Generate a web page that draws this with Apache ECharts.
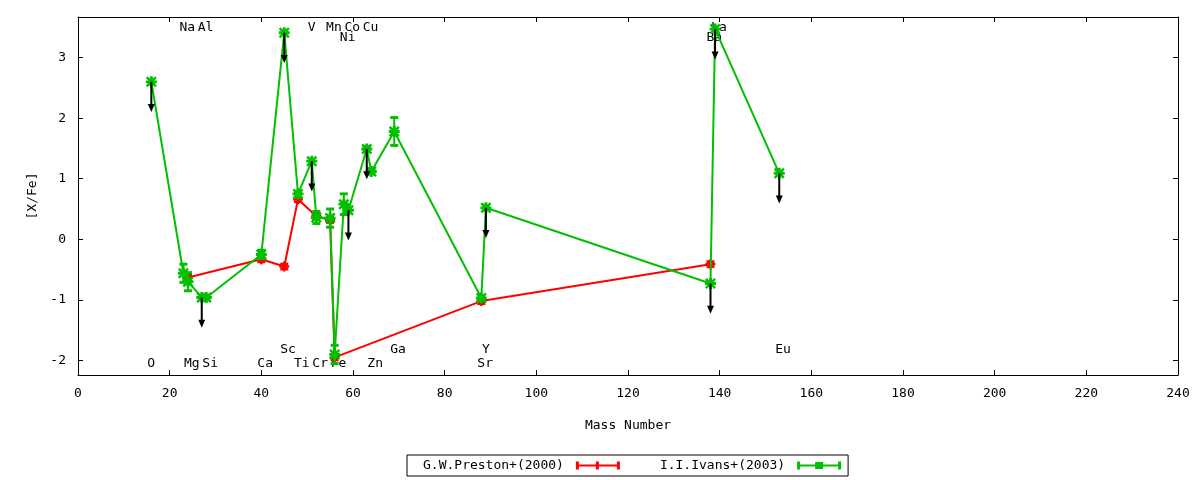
<!DOCTYPE html>
<head>
    <title>ECharts</title>
    <meta charset="UTF-8">
	<style>
	html,body{margin:0;padding:0;background:#fff;}
	</style>
</head>
<body>
	  <div id="main" style="width:1200px;height:480px;"></div>

    <script src="https://cdn.jsdelivr.net/npm/echarts@6/dist/echarts.min.js" charset="UTF-8"></script>
    <script type="text/javascript">
	// elements, mass numbers and where gnuplot put the name tags
	var elements = ['O','Na','Mg','Al','Si','Ca','Sc','Ti','V','Cr','Mn','Fe','Ni','Co','Cu','Zn','Ga','Sr','Y','Ba','La','Eu'];
	var massNumber = [16,23,24,27,28,40,45,48,51,52,55,56,58,59,63,64,69,88,89,138,139,153];
	var tagY = [-2.05,3.5,-2.05,3.5,-2.05,-2.05,-1.82,-2.05,3.5,-2.05,3.5,-2.05,3.33,3.5,3.5,-2.05,-1.82,-2.05,-1.82,3.33,3.5,-1.82];

	// I.I.Ivans+(2003), same order as elements
	var ivansVal   = [2.60,-0.56,-0.70,-0.96,-0.96,-0.25,3.41,0.75,1.29,0.36,0.35,-1.90,0.58,0.48,1.49,1.12,1.78,-0.97,0.52,-0.73,3.47,1.09];
	var ivansErr   = [0,0.15,0.15,0,0.03,0.07,0,0.04,0,0.10,0.15,0.15,0.17,0,0.04,0.04,0.23,0.04,0,0,0,0];
	var ivansLimit = [1,0,0,1,0,0,1,0,1,0,0,0,0,1,1,0,0,0,1,1,1,1];

	// G.W.Preston+(2000)
	var prestonMass = [24,40,45,48,52,55,56,88,138];
	var prestonVal  = [-0.63,-0.33,-0.45,0.66,0.38,0.32,-1.95,-1.02,-0.41];
	var prestonErr  = [0.04,0.04,0.04,0.04,0.04,0.04,0.04,0.04,0.04];

	var xTicks = {min:0, max:240, step:20};
	var limitDrop = 0.5;

	var FONT = 'DejaVu Sans Mono';
	var RED = '#ff0000', GREEN = '#00c000';
	var starPath = 'path://M0,1.6L1.6,0L5,3.4L8.4,0L10,1.6L6.6,5L10,8.4L8.4,10L5,6.6L1.6,10L0,8.4L3.4,5Z M3.7,0h2.6v10h-2.6z M0,3.7h10v2.6h-10z M2.5,2.5h5v5h-5z';
	var plusPath = 'path://M3.8,0h2.4v10h-2.4z M0,3.8h10v2.4h-10z';

	var ivansLine = [], ivansBars = [], arrows = [], tags = [];
	for (var i = 0; i < elements.length; i++) {
		ivansLine.push([massNumber[i], ivansVal[i]]);
		ivansBars.push([massNumber[i], ivansVal[i], ivansErr[i]]);
		if (ivansLimit[i]) arrows.push([massNumber[i], ivansVal[i]]);
		tags.push([massNumber[i], tagY[i], elements[i]]);
	}
	var prestonLine = [], prestonBars = [];
	for (var j = 0; j < prestonMass.length; j++) {
		prestonLine.push([prestonMass[j], prestonVal[j]]);
		prestonBars.push([prestonMass[j], prestonVal[j], prestonErr[j]]);
	}

	function errBars(color) {
		return function (params, api) {
			var e = api.value(2);
			if (!e) return null;
			var x = api.value(0), y = api.value(1);
			var a = api.coord([x, y + e]), b = api.coord([x, y - e]);
			var st = {stroke: color, lineWidth: 2};
			return {type: 'group', children: [
				{type: 'line', shape: {x1: a[0], y1: a[1], x2: b[0], y2: b[1]}, style: st},
				{type: 'line', shape: {x1: a[0]-4, y1: a[1], x2: a[0]+4, y2: a[1]}, style: {stroke: color, lineWidth: 3}},
				{type: 'line', shape: {x1: b[0]-4, y1: b[1], x2: b[0]+4, y2: b[1]}, style: {stroke: color, lineWidth: 3}}
			]};
		};
	}

	function drawArrow(params, api) {
		var x = api.value(0), y = api.value(1);
		var a = api.coord([x, y]), b = api.coord([x, y - limitDrop]);
		return {type: 'group', children: [
			{type: 'line', shape: {x1: a[0], y1: a[1], x2: b[0], y2: b[1]-5}, style: {stroke: '#000', lineWidth: 2}},
			{type: 'polygon', shape: {points: [[b[0]-3.5, b[1]-8], [b[0]+3.5, b[1]-8], [b[0], b[1]]]}, style: {fill: '#000'}}
		]};
	}

	function drawTag(params, api) {
		var p = api.coord([api.value(0), api.value(1)]);
		return {type: 'text', x: p[0]-4, y: p[1], style: {
			text: tags[params.dataIndex][2], fill: '#000', font: '13px ' + FONT,
			align: 'left', verticalAlign: 'middle'}};
	}

	var tickOnly = {show: true, inside: true, length: 5, lineStyle: {color: '#000'}};
	var frame = {show: true, onZero: false, lineStyle: {color: '#000', width: 1}};
	var yLab = function (v) { return Math.abs(v - Math.round(v)) < 1e-6 ? String(Math.round(v)) : ''; };

	var myChart = echarts.init(document.getElementById('main'));
	myChart.setOption({
		animation: false,
		backgroundColor: '#fff',
		textStyle: {fontFamily: FONT, fontSize: 13, color: '#000'},
		grid: {left: 78, right: 22, top: 17, bottom: 105, containLabel: false},
		legend: {
			left: 407, top: 455, selectedMode: false,
			borderColor: '#000', borderWidth: 1, borderRadius: 0,
			padding: [4, 7, 4, 16], itemGap: 40, itemWidth: 44, itemHeight: 8,
			align: 'right',
			textStyle: {fontFamily: FONT, fontSize: 13, color: '#000', padding: [0, 7, 0, 0]},
			data: [
				{name: 'G.W.Preston+(2000)', icon: 'path://M0,0h3v8h-3z M3,3h38v2h-38z M41,0h3v8h-3z M20,0h3v8h-3z'},
				{name: 'I.I.Ivans+(2003)', icon: 'path://M0,0h3v8h-3z M3,3h38v2h-38z M41,0h3v8h-3z M18,0.5h8v7h-8z'}
			]
		},
		xAxis: [{
			type: 'value', min: xTicks.min, max: xTicks.max, interval: xTicks.step,
			name: 'Mass Number', nameLocation: 'middle', nameGap: 44,
			nameTextStyle: {fontFamily: FONT, fontSize: 13, color: '#000'},
			axisLine: frame, axisTick: tickOnly, splitLine: {show: false},
			axisLabel: {fontFamily: FONT, fontSize: 13, color: '#000', margin: 12}
		}, {
			type: 'value', position: 'top', min: xTicks.min, max: xTicks.max, interval: xTicks.step,
			axisLine: frame, axisTick: tickOnly, splitLine: {show: false}, axisLabel: {show: false}
		}],
		yAxis: [{
			type: 'value', min: -2.24, max: 3.67, splitNumber: 5,
			name: '[X/Fe]', nameLocation: 'middle', nameGap: 38, nameRotate: 90,
			nameTextStyle: {fontFamily: FONT, fontSize: 13, color: '#000'},
			axisLine: frame, axisTick: tickOnly, splitLine: {show: false},
			axisLabel: {fontFamily: FONT, fontSize: 13, color: '#000', margin: 12, formatter: yLab,
				showMinLabel: false, showMaxLabel: false}
		}, {
			type: 'value', position: 'right', min: -2.24, max: 3.67, splitNumber: 5,
			axisLine: frame, axisTick: tickOnly, splitLine: {show: false}, axisLabel: {show: false}
		}],
		series: [
			{type: 'custom', name: 'tags', renderItem: drawTag, data: tags, z: 1, silent: true},
			{type: 'custom', name: 'prestonErr', renderItem: errBars(RED), data: prestonBars, z: 2},
			{type: 'line', name: 'G.W.Preston+(2000)', data: prestonLine, z: 3,
				symbol: plusPath, symbolSize: 10, showSymbol: true,
				lineStyle: {color: RED, width: 2}, itemStyle: {color: RED}},
			{type: 'custom', name: 'ivansErr', renderItem: errBars(GREEN), data: ivansBars, z: 4},
			{type: 'line', name: 'I.I.Ivans+(2003)', data: ivansLine, z: 5,
				symbol: starPath, symbolSize: 11, showSymbol: true,
				lineStyle: {color: GREEN, width: 2}, itemStyle: {color: GREEN}},
			{type: 'custom', name: 'limits', renderItem: drawArrow, data: arrows, z: 6}
		]
	});
    </script>
</body>
